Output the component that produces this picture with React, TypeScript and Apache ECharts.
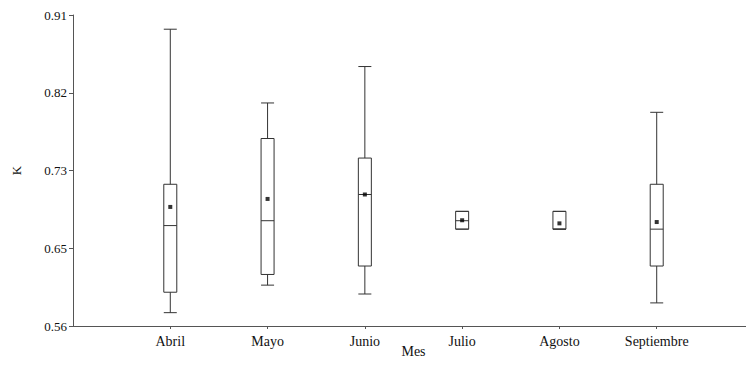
import React, { useEffect, useRef } from "react";
import * as echarts from "echarts";

const categories = ["Abril", "Mayo", "Junio", "Julio", "Agosto", "Septiembre"];
const minValues = [0.575, 0.606, 0.596, 0.669, 0.669, 0.586];
const q1Values = [0.598, 0.618, 0.6275, 0.669, 0.669, 0.6275];
const medianValues = [0.673, 0.6785, 0.708, 0.6785, 0.669, 0.669];
const q3Values = [0.7195, 0.771, 0.749, 0.689, 0.689, 0.7195];
const maxValues = [0.894, 0.811, 0.852, 0.689, 0.689, 0.8005];
const meanValues = [0.694, 0.703, 0.708, 0.679, 0.6755, 0.677];
const yTickLabels = ["0.56", "0.65", "0.73", "0.82", "0.91"];

const FONT = "'Liberation Serif', 'DejaVu Serif', serif";

export default function App() {
  const ref = useRef<HTMLDivElement>(null);
  useEffect(() => {
    if (!ref.current) return;
    const chart = echarts.init(ref.current, null, { renderer: "svg" });
    const axisData = ["", ...categories, ""];
    const boxData = categories.map((_, i) => [
      i + 1,
      minValues[i],
      q1Values[i],
      medianValues[i],
      q3Values[i],
      maxValues[i],
    ]);
    const meanData = categories.map((_, i) => [i + 1, meanValues[i]]);
    chart.setOption({
      animation: false,
      backgroundColor: "#ffffff",
      grid: {
        left: 73,
        width: 681,
        top: 15,
        bottom: 44,
        containLabel: false,
        outerBoundsMode: "none",
      },
      xAxis: {
        type: "category",
        data: axisData,
        boundaryGap: false,
        name: "Mes",
        nameLocation: "middle",
        nameGap: 18,
        nameMoveOverlap: false,
        nameTextStyle: { fontFamily: FONT, fontSize: 14, color: "#111" },
        axisLine: { show: true, lineStyle: { color: "#555", width: 1 } },
        axisTick: {
          show: true,
          length: 3,
          interval: (idx: number) => idx >= 1 && idx <= categories.length,
          lineStyle: { color: "#555" },
        },
        axisLabel: {
          interval: 0,
          margin: 8,
          fontFamily: FONT,
          fontSize: 14,
          color: "#111",
        },
        splitLine: { show: false },
      },
      yAxis: {
        type: "value",
        min: 0.56,
        max: 0.91,
        interval: 0.0875,
        name: "K",
        nameLocation: "middle",
        nameGap: 50,
        nameMoveOverlap: false,
        nameTextStyle: { fontFamily: FONT, fontSize: 13, color: "#111" },
        axisLine: { show: true, lineStyle: { color: "#555", width: 1 } },
        axisTick: { show: true, length: 4, lineStyle: { color: "#555" } },
        axisLabel: {
          margin: 6,
          fontFamily: FONT,
          fontSize: 13,
          color: "#111",
          formatter: (_v: number, idx: number) => yTickLabels[idx] ?? "",
        },
        splitLine: { show: false },
      },
      series: [
        {
          type: "boxplot",
          data: boxData,
          dimensions: ["idx", "min", "Q1", "median", "Q3", "max"],
          encode: { x: "idx", y: ["min", "Q1", "median", "Q3", "max"] },
          boxWidth: [13, 13],
          itemStyle: { color: "#ffffff", borderColor: "#333", borderWidth: 1 },
          silent: true,
        },
        {
          type: "scatter",
          data: meanData,
          symbol: "rect",
          symbolSize: 4,
          itemStyle: { color: "#000" },
          silent: true,
          z: 5,
        },
      ],
    });
    return () => chart.dispose();
  }, []);
  return (
    <div
      ref={ref}
      style={{ position: "fixed", left: 0, top: 0, width: 746, height: 370 }}
    />
  );
}
